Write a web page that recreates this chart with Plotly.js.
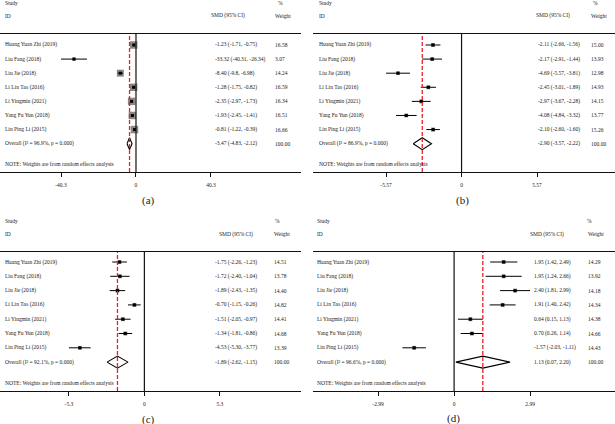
<!DOCTYPE html>
<html>
<head>
<meta charset="utf-8">
<script src="https://cdn.plot.ly/plotly-3.0.1.min.js"></script>
<style>html,body{margin:0;padding:0;background:#fff;}#chart{width:615px;height:424px;}</style>
</head>
<body>
<div id="chart"></div>
<script>
// ---------- DATA ----------
const studies = ["Huang Yuan Zhi (2019)", "Liu Fang (2018)", "Liu Jie (2018)", "Li Lin Tao (2016)",
                 "Li Yingmin (2021)", "Yang Fu Yun (2018)", "Lin Ping Li (2015)"];

// Panel (a)
const estA = [-1.23, -33.32, -8.40, -1.28, -2.35, -1.93, -0.81];
const lowA = [-1.71, -40.31, -9.8, -1.75, -2.97, -2.45, -1.22];
const highA = [-0.75, -26.34, -6.98, -0.82, -1.73, -1.41, -0.39];
const weightA = [16.58, 3.07, 14.24, 16.59, 16.34, 16.51, 16.66];
const ciTextA = ["-1.23 (-1.71, -0.75)", "-33.32 (-40.31, -26.34)", "-8.40 (-9.8, -6.98)", "-1.28 (-1.75, -0.82)",
                 "-2.35 (-2.97, -1.73)", "-1.93 (-2.45, -1.41)", "-0.81 (-1.22, -0.39)"];
const overallA = [-3.47, -4.83, -2.12];
const overallTextA = ["Overall (I² = 96.9%, p = 0.000)", "-3.47 (-4.83, -2.12)", "100.00"];
const ticksA = [-40.3, 0, 40.3];
const tickTextA = ["-40.3", "0", "40.3"];

// Panel (b)
const estB = [-2.11, -2.17, -4.69, -2.45, -2.97, -4.08, -2.10];
const lowB = [-2.66, -2.91, -5.57, -3.01, -3.67, -4.84, -2.60];
const highB = [-1.56, -1.44, -3.81, -1.89, -2.28, -3.32, -1.60];
const weightB = [15.00, 13.93, 12.98, 14.93, 14.15, 13.77, 15.26];
const ciTextB = ["-2.11 (-2.66, -1.56)", "-2.17 (-2.91, -1.44)", "-4.69 (-5.57, -3.81)", "-2.45 (-3.01, -1.89)",
                 "-2.97 (-3.67, -2.28)", "-4.08 (-4.84, -3.32)", "-2.10 (-2.60, -1.60)"];
const overallB = [-2.90, -3.57, -2.22];
const overallTextB = ["Overall (I² = 86.9%, p = 0.000)", "-2.90 (-3.57, -2.22)", "100.00"];
const ticksB = [-5.57, 0, 5.57];
const tickTextB = ["-5.57", "0", "5.57"];

// Panel (c)
const estC = [-1.75, -1.72, -1.89, -0.70, -1.51, -1.34, -4.53];
const lowC = [-2.26, -2.40, -2.43, -1.15, -2.05, -1.81, -5.30];
const highC = [-1.23, -1.04, -1.35, -0.26, -0.97, -0.86, -3.77];
const weightC = [14.51, 13.78, 14.40, 14.82, 14.41, 14.68, 13.39];
const ciTextC = ["-1.75 (-2.26, -1.23)", "-1.72 (-2.40, -1.04)", "-1.89 (-2.43, -1.35)", "-0.70 (-1.15, -0.26)",
                 "-1.51 (-2.05, -0.97)", "-1.34 (-1.81, -0.86)", "-4.53 (-5.30, -3.77)"];
const overallC = [-1.89, -2.62, -1.15];
const overallTextC = ["Overall (I² = 92.1%, p = 0.000)", "-1.89 (-2.62, -1.15)", "100.00"];
const ticksC = [-5.3, 0, 5.3];
const tickTextC = ["-5.3", "0", "5.3"];

// Panel (d)
const estD = [1.95, 1.95, 2.40, 1.91, 0.64, 0.70, -1.57];
const lowD = [1.42, 1.24, 1.81, 1.40, 0.15, 0.26, -2.03];
const highD = [2.49, 2.66, 2.99, 2.42, 1.13, 1.14, -1.11];
const weightD = [14.29, 13.92, 14.18, 14.34, 14.38, 14.66, 14.43];
const ciTextD = ["1.95 (1.42, 2.49)", "1.95 (1.24, 2.66)", "2.40 (1.81, 2.99)", "1.91 (1.40, 2.42)",
                 "0.64 (0.15, 1.13)", "0.70 (0.26, 1.14)", "-1.57 (-2.03, -1.11)"];
const overallD = [1.13, 0.07, 2.20];
const overallTextD = ["Overall (I² = 96.6%, p = 0.000)", "1.13 (0.07, 2.20)", "100.00"];
const ticksD = [-2.99, 0, 2.99];
const tickTextD = ["-2.99", "0", "2.99"];

const headerStudy = "Study", headerID = "ID", headerSMD = "SMD (95% CI)", headerPct = "%", headerWeight = "Weight";
const noteText = "NOTE: Weights are from random effects analysis";
const panelLabels = ["(a)", "(b)", "(c)", "(d)"];

// ---------- LAYOUT / STYLE ----------
const W = 615, H = 424;
const FONT = "Liberation Serif, Times New Roman, serif";
const px = x => x / W;
const py = y => 1 - y / H;

const panels = [
  {est: estA, low: lowA, high: highA, w: weightA, ci: ciTextA, ov: overallA, ovText: overallTextA, tv: ticksA, tt: tickTextA,
   x0: 0, x1: 301, top: 34, bot: 172, xr: [-73.1, 88.7], yr: [10.01, 0.22],
   nameX: 3, smdX: 213, wX: 273, smdHdr: 228, pctX: 276, labX: 148, labY: 200, boxMax: 7.5, boxRef: 16.6},
  {est: estB, low: lowB, high: highB, w: weightB, ci: ciTextB, ov: overallB, ovText: overallTextB, tv: ticksB, tt: tickTextB,
   x0: 313, x1: 615, top: 34, bot: 172, xr: [-10.96, 11.32], yr: [10.01, 0.22],
   nameX: 317, smdX: 536, wX: 589, smdHdr: 553, pctX: 591, labX: 462, labY: 200, boxMax: 4, boxRef: 15},
  {est: estC, low: lowC, high: highC, w: weightC, ci: ciTextC, ov: overallC, ovText: overallTextC, tv: ticksC, tt: tickTextC,
   x0: 0, x1: 301, top: 252, bot: 391, xr: [-10.14, 11.0], yr: [10.02, 0.30],
   nameX: 3, smdX: 213, wX: 272, smdHdr: 236, pctX: 273, labX: 148, labY: 419, boxMax: 4, boxRef: 15},
  {est: estD, low: lowD, high: highD, w: weightD, ci: ciTextD, ov: overallD, ovText: overallTextD, tv: ticksD, tt: tickTextD,
   x0: 313, x1: 615, top: 252, bot: 391, xr: [-5.55, 6.33], yr: [10.02, 0.30],
   nameX: 315, smdX: 532, wX: 586, smdHdr: 547, pctX: 585, labX: 454, labY: 418, boxMax: 4, boxRef: 15}
];

const rows = studies.map((_, i) => i + 1);
const overallRow = studies.length + 1;
const noteRow = overallRow + 1.45;

const data = [];
const layout = {
  width: W, height: H, margin: {l: 0, r: 0, t: 0, b: 0},
  paper_bgcolor: "#fff", plot_bgcolor: "rgba(0,0,0,0)",
  showlegend: false, font: {family: FONT, size: 5.5, color: "#222"},
  annotations: [], shapes: []
};
const txtFont = {family: FONT, size: 5.5, color: "#222"};

panels.forEach((p, k) => {
  const sfx = k === 0 ? "" : String(k + 1);
  const xa = "x" + sfx, ya = "y" + sfx;
  layout["xaxis" + sfx] = {
    domain: [px(p.x0), px(p.x1)], range: p.xr, anchor: ya,
    showline: true, mirror: true, linecolor: "#111", linewidth: 1.3,
    ticks: "outside", ticklen: 4, tickwidth: 1, tickcolor: "#111",
    tickvals: p.tv, ticktext: p.tt, tickfont: {family: FONT, size: 5.5, color: "#222"},
    ticklabelstandoff: 3,
    showgrid: false, zeroline: false, fixedrange: true
  };
  layout["yaxis" + sfx] = {
    domain: [py(p.bot), py(p.top)], range: p.yr, anchor: xa,
    visible: false, showgrid: false, zeroline: false, fixedrange: true
  };

  // zero line and overall dashed line
  layout.shapes.push({type: "line", xref: xa, yref: ya + " domain", x0: 0, x1: 0, y0: 0, y1: 1,
                      line: {color: "#111", width: 1.2}});
  layout.shapes.push({type: "line", xref: xa, yref: ya + " domain", x0: p.ov[0], x1: p.ov[0], y0: 0, y1: 1,
                      line: {color: "#e8202a", width: 1.3, dash: "4px,2px"}});

  // weight boxes
  data.push({type: "scatter", mode: "markers", xaxis: xa, yaxis: ya, x: p.est, y: rows,
             marker: {symbol: "square", color: "#555", size: p.w.map(v => p.boxMax * Math.sqrt(v / p.boxRef)), line: {width: 0}},
             hoverinfo: "skip"});
  // CI lines + point
  data.push({type: "scatter", mode: "markers", xaxis: xa, yaxis: ya, x: p.est, y: rows,
             marker: {symbol: "square", color: "#000", size: 3},
             error_x: {type: "data", symmetric: false,
                       array: p.high.map((h, i) => h - p.est[i]),
                       arrayminus: p.low.map((l, i) => p.est[i] - l),
                       width: 0, thickness: 1, color: "#000"},
             hoverinfo: "skip"});
  // overall diamond
  const dh = 0.42;
  data.push({type: "scatter", mode: "lines", xaxis: xa, yaxis: ya,
             x: [p.ov[1], p.ov[0], p.ov[2], p.ov[0], p.ov[1]],
             y: [overallRow, overallRow - dh, overallRow, overallRow + dh, overallRow],
             fill: "toself", fillcolor: "#fff", line: {color: "#000", width: 1.1}, hoverinfo: "skip"});

  // text columns
  studies.forEach((s, i) => {
    layout.annotations.push({xref: "paper", yref: ya, x: px(p.nameX), y: rows[i], text: s, showarrow: false,
                             xanchor: "left", yanchor: "middle", font: txtFont});
    layout.annotations.push({xref: "paper", yref: ya, x: px(p.smdX), y: rows[i], text: p.ci[i], showarrow: false,
                             xanchor: "left", yanchor: "middle", font: txtFont});
    layout.annotations.push({xref: "paper", yref: ya, x: px(p.wX), y: rows[i], text: p.w[i].toFixed(2), showarrow: false,
                             xanchor: "left", yanchor: "middle", font: txtFont});
  });
  layout.annotations.push({xref: "paper", yref: ya, x: px(p.nameX), y: overallRow, text: p.ovText[0], showarrow: false,
                           xanchor: "left", yanchor: "middle", font: txtFont});
  layout.annotations.push({xref: "paper", yref: ya, x: px(p.smdX), y: overallRow, text: p.ovText[1], showarrow: false,
                           xanchor: "left", yanchor: "middle", font: txtFont});
  layout.annotations.push({xref: "paper", yref: ya, x: px(p.wX), y: overallRow, text: p.ovText[2], showarrow: false,
                           xanchor: "left", yanchor: "middle", font: txtFont});
  layout.annotations.push({xref: "paper", yref: ya, x: px(p.nameX), y: noteRow, text: noteText, showarrow: false,
                           xanchor: "left", yanchor: "middle", font: txtFont});

  // headers
  const hy1 = p.top - 31, hy2 = p.top - 18;
  layout.annotations.push({xref: "paper", yref: "paper", x: px(p.nameX), y: py(hy1), text: headerStudy, showarrow: false,
                           xanchor: "left", yanchor: "middle", font: txtFont});
  layout.annotations.push({xref: "paper", yref: "paper", x: px(p.nameX), y: py(hy2), text: headerID, showarrow: false,
                           xanchor: "left", yanchor: "middle", font: txtFont});
  layout.annotations.push({xref: "paper", yref: "paper", x: px(p.smdHdr), y: py(hy2), text: headerSMD, showarrow: false,
                           xanchor: "center", yanchor: "middle", font: txtFont});
  layout.annotations.push({xref: "paper", yref: "paper", x: px(p.pctX), y: py(hy1), text: headerPct, showarrow: false,
                           xanchor: "left", yanchor: "middle", font: txtFont});
  layout.annotations.push({xref: "paper", yref: "paper", x: px(p.wX), y: py(hy2), text: headerWeight, showarrow: false,
                           xanchor: "left", yanchor: "middle", font: txtFont});
  // panel label
  layout.annotations.push({xref: "paper", yref: "paper", x: px(p.labX), y: py(p.labY), text: panelLabels[k], showarrow: false,
                           xanchor: "center", yanchor: "middle", font: {family: FONT, size: 11, color: "#222"}});
});

Plotly.newPlot("chart", data, layout, {staticPlot: true, displayModeBar: false});
</script>
</body>
</html>
